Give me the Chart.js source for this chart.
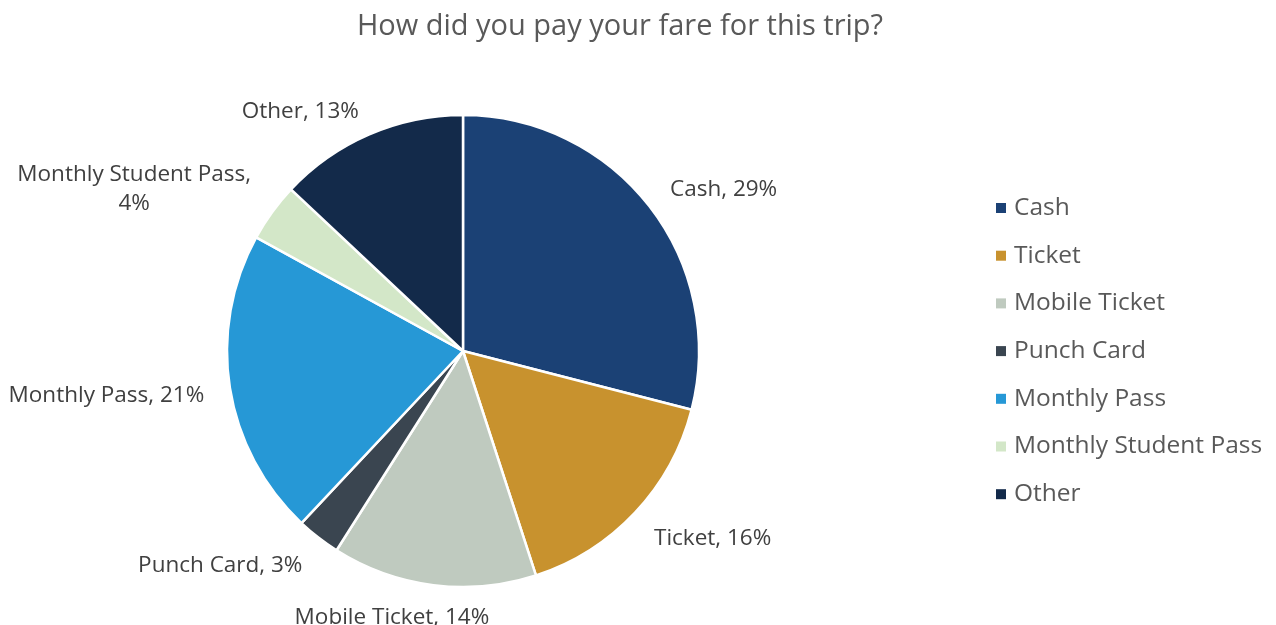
<!DOCTYPE html>
<html>
<head>
<meta charset="utf-8">
<script src="https://cdn.jsdelivr.net/npm/chart.js@4/dist/chart.umd.min.js"></script>
<style>
  html, body { margin: 0; padding: 0; background: #ffffff; }
  #wrap { width: 1276px; height: 625px; position: relative; }
</style>
</head>
<body>
<div id="wrap"><canvas id="fare"></canvas></div>
<script>
// Survey responses: fare payment method for the trip
const categories = ['Cash', 'Ticket', 'Mobile Ticket', 'Punch Card', 'Monthly Pass', 'Monthly Student Pass', 'Other'];
const shares = [29, 16, 14, 3, 21, 4, 13];
const sliceColors = ['#1B4175', '#C8922E', '#BFCABF', '#3A4550', '#2698D6', '#D3E7C8', '#132A4A'];
const titleText = 'How did you pay your fare for this trip?';

const FONT = '"Open Sans", "Liberation Sans", sans-serif';

// Title, outside-end data labels and the side legend
const decorations = {
  id: 'decorations',
  afterDraw(chart) {
    const ctx = chart.ctx;
    const meta = chart.getDatasetMeta(0);
    ctx.save();

    // title
    ctx.fillStyle = '#595959';
    ctx.font = '29px ' + FONT;
    ctx.textAlign = 'center';
    ctx.textBaseline = 'alphabetic';
    ctx.fillText(titleText, 620, 35);

    // data labels just outside each slice
    ctx.font = '22.5px ' + FONT;
    ctx.fillStyle = '#404040';
    const lineH = 29;
    meta.data.forEach((arc, i) => {
      const p = arc.getProps(['x', 'y', 'startAngle', 'endAngle', 'outerRadius'], true);
      const mid = (p.startAngle + p.endAngle) / 2;
      const sx = Math.cos(mid), sy = Math.sin(mid);
      const ax = p.x + sx * (p.outerRadius + 26);
      const ay = p.y + sy * (p.outerRadius + 22) + 3;
      const full = categories[i] + ', ' + shares[i] + '%';
      let lines = [full];
      if (ctx.measureText(full).width > 240) lines = [categories[i] + ',', shares[i] + '%'];
      const w = Math.max(...lines.map(l => ctx.measureText(l).width));
      const h = 12 + (lines.length - 1) * lineH * 0.5;
      let cx;
      if (sx > 0.3) cx = ax + w / 2;
      else if (sx < -0.3) cx = ax - w / 2;
      else cx = ax + sx * w / 2 - (sx < 0 ? 26 : 0);
      let cy;
      if (sy < -0.3) cy = ay - h / 2;
      else if (sy > 0.3) cy = ay + (h + 4) / 2;
      else cy = ay + sy * h / 2;
      ctx.textAlign = 'center';
      ctx.textBaseline = 'middle';
      const top = cy - (lines.length - 1) * lineH / 2;
      lines.forEach((l, k) => {
        ctx.fillText(l, cx, top + k * lineH);
      });
    });

    // legend
    ctx.font = '24.5px ' + FONT;
    ctx.textAlign = 'left';
    ctx.textBaseline = 'middle';
    const ds = chart.data.datasets[0];
    chart.data.labels.forEach((lab, i) => {
      const y = 208 + i * 47.7;
      ctx.fillStyle = ds.backgroundColor[i];
      ctx.fillRect(996, y - 5, 10, 10);
      ctx.fillStyle = '#595959';
      ctx.fillText(lab, 1014, y);
    });
    ctx.restore();
  }
};

new Chart(document.getElementById('fare'), {
  type: 'pie',
  data: {
    labels: categories,
    datasets: [{
      data: shares,
      backgroundColor: sliceColors,
      borderColor: '#ffffff',
      borderWidth: 2.5
    }]
  },
  options: {
    responsive: true,
    maintainAspectRatio: false,
    animation: false,
    radius: 236,
    layout: { padding: { left: 0, right: 350, top: 100, bottom: 23 } },
    plugins: {
      legend: { display: false },
      title: { display: false },
      tooltip: { enabled: false }
    }
  },
  plugins: [decorations]
});
</script>
</body>
</html>
